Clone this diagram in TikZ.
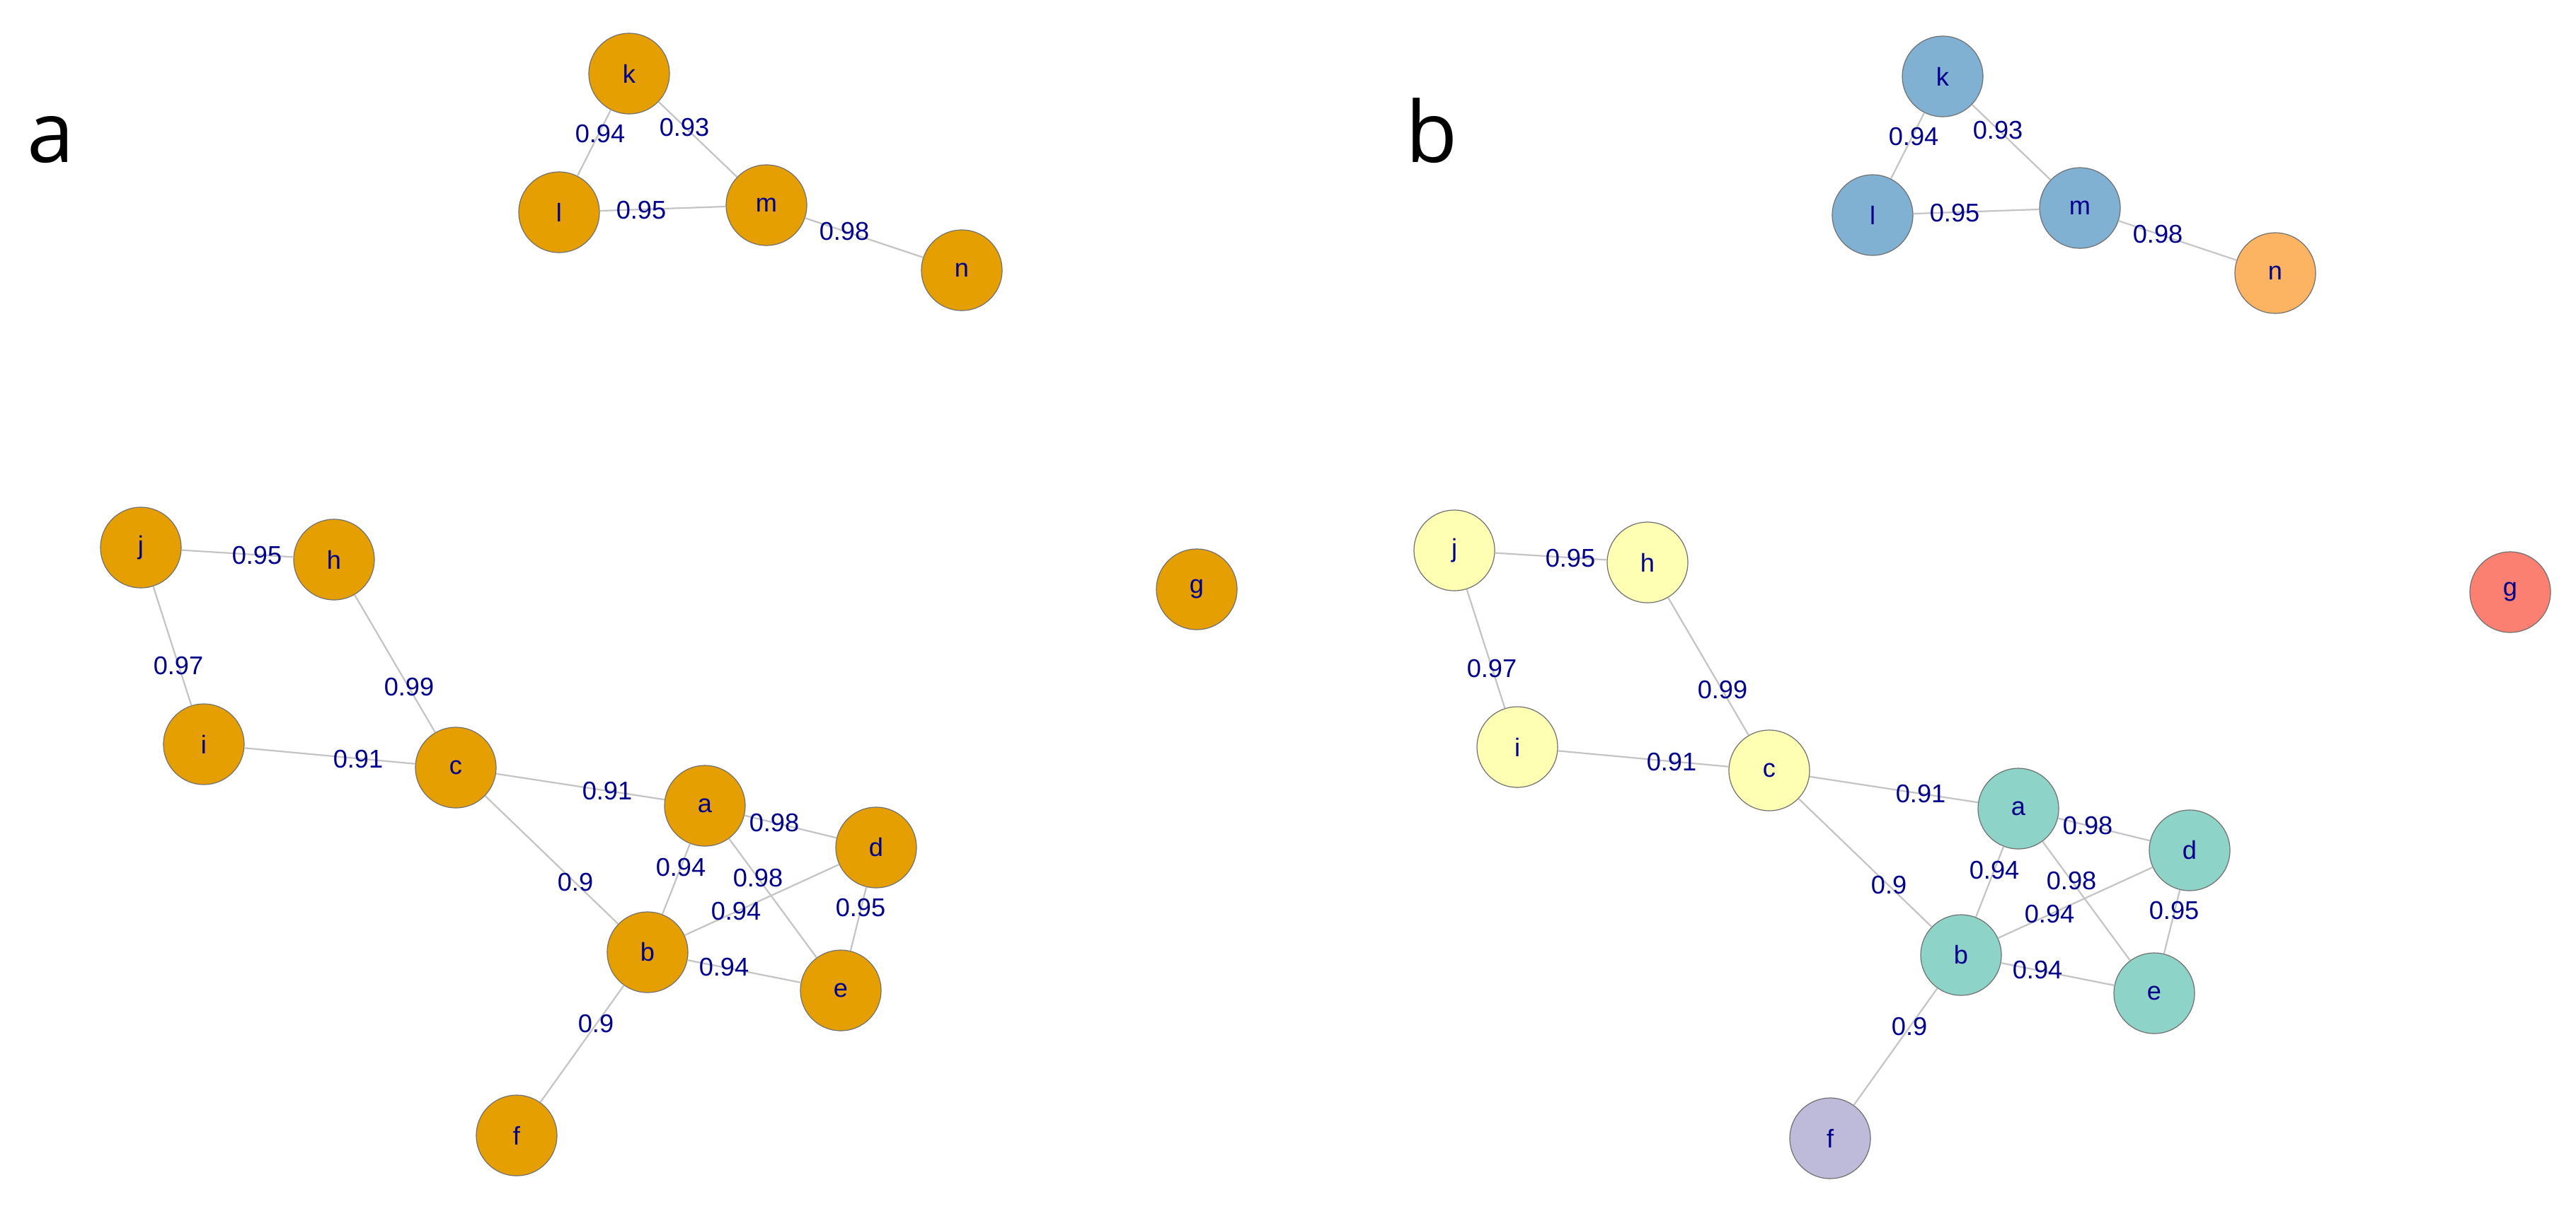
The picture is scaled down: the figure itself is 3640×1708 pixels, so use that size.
\documentclass[tikz,border=0pt]{standalone}
\usepackage{fontspec}
\setmainfont{Liberation Sans}
\newfontfamily\panelfont{Open Sans}
\definecolor{okorange}{HTML}{E69F00}
\definecolor{sthree}{HTML}{8DD3C7}
\definecolor{sthreey}{HTML}{FFFFB3}
\definecolor{sthreel}{HTML}{BEBADA}
\definecolor{sthreer}{HTML}{FB8072}
\definecolor{sthreeb}{HTML}{80B1D3}
\definecolor{sthreeo}{HTML}{FDB462}
\definecolor{lblblue}{HTML}{00008B}
\definecolor{edgegray}{HTML}{C4C4C4}
\definecolor{rimgray}{HTML}{707070}
\tikzset{
  vtx/.style={circle, minimum size=1.14cm, inner sep=0pt, draw=rimgray,
    line width=0.012cm, text=lblblue, font=\fontsize{10.3}{12}\selectfont},
  edg/.style={draw=edgegray, line width=0.022cm},
  wlab/.style={text=lblblue, inner sep=0pt, font=\fontsize{10.3}{12}\selectfont},
  plab/.style={anchor=base, inner sep=0pt, font=\panelfont\fontsize{34}{40}\selectfont}
}
\newcommand\graphpanel[7]{%
  \node[vtx, fill=#2] (#1a) at (996,1139) {a};
  \node[vtx, fill=#2] (#1b) at (915,1346) {b};
  \node[vtx, fill=#3] (#1c) at (644,1085) {c};
  \node[vtx, fill=#2] (#1d) at (1238,1198) {d};
  \node[vtx, fill=#2] (#1e) at (1188,1400) {e};
  \node[vtx, fill=#4] (#1f) at (730,1605) {f};
  \node[vtx, fill=#5] (#1g) at (1691,833) {g};
  \node[vtx, fill=#3] (#1h) at (472,791) {h};
  \node[vtx, fill=#3] (#1i) at (288,1052) {i};
  \node[vtx, fill=#3] (#1j) at (199,774) {j};
  \node[vtx, fill=#6] (#1k) at (889,104) {k};
  \node[vtx, fill=#6] (#1l) at (790,300) {l};
  \node[vtx, fill=#6] (#1m) at (1083,290) {m};
  \node[vtx, fill=#7] (#1n) at (1359,382) {n};
  \draw[edg] (#1k) -- (#1l);
  \draw[edg] (#1k) -- (#1m);
  \draw[edg] (#1l) -- (#1m);
  \draw[edg] (#1m) -- (#1n);
  \draw[edg] (#1j) -- (#1h);
  \draw[edg] (#1j) -- (#1i);
  \draw[edg] (#1h) -- (#1c);
  \draw[edg] (#1i) -- (#1c);
  \draw[edg] (#1c) -- (#1a);
  \draw[edg] (#1c) -- (#1b);
  \draw[edg] (#1a) -- (#1d);
  \draw[edg] (#1a) -- (#1b);
  \draw[edg] (#1a) -- (#1e);
  \draw[edg] (#1b) -- (#1d);
  \draw[edg] (#1d) -- (#1e);
  \draw[edg] (#1b) -- (#1e);
  \draw[edg] (#1b) -- (#1f);
  \node[wlab] (#1Lkl) at (848,189) {0.94};
  \node[wlab] (#1Lkm) at (967,180) {0.93};
  \node[wlab] (#1Llm) at (906,297) {0.95};
  \node[wlab] (#1Lmn) at (1193,327) {0.98};
  \node[wlab] (#1Ljh) at (363,785) {0.95};
  \node[wlab] (#1Lji) at (252,941) {0.97};
  \node[wlab] (#1Lhc) at (578,971) {0.99};
  \node[wlab] (#1Lic) at (506,1073) {0.91};
  \node[wlab] (#1Lca) at (858,1118) {0.91};
  \node[wlab] (#1Lad) at (1094,1163) {0.98};
  \node[wlab] (#1Lab) at (962,1226) {0.94};
  \node[wlab] (#1Lae) at (1071,1241) {0.98};
  \node[wlab] (#1Lcb) at (813,1247) {0.9};
  \node[wlab] (#1Lbd) at (1040,1288) {0.94};
  \node[wlab] (#1Lde) at (1216,1283) {0.95};
  \node[wlab] (#1Lbe) at (1023,1367) {0.94};
  \node[wlab] (#1Lbf) at (842,1447) {0.9};
}
\begin{document}
\begin{tikzpicture}[x=0.01cm, y=-0.01cm]
  \fill[white] (0,0) rectangle (3640,1708);
  \useasboundingbox (0,0) rectangle (3640,1708);
  \node[plab] (panelA) at (72,229) {a};
  \node[plab] (panelB) at (2023,229) {b};
  \graphpanel{A}{okorange}{okorange}{okorange}{okorange}{okorange}{okorange}
  \begin{scope}[shift={(1856,4)}]
    \graphpanel{B}{sthree}{sthreey}{sthreel}{sthreer}{sthreeb}{sthreeo}
  \end{scope}
\end{tikzpicture}
\end{document}
